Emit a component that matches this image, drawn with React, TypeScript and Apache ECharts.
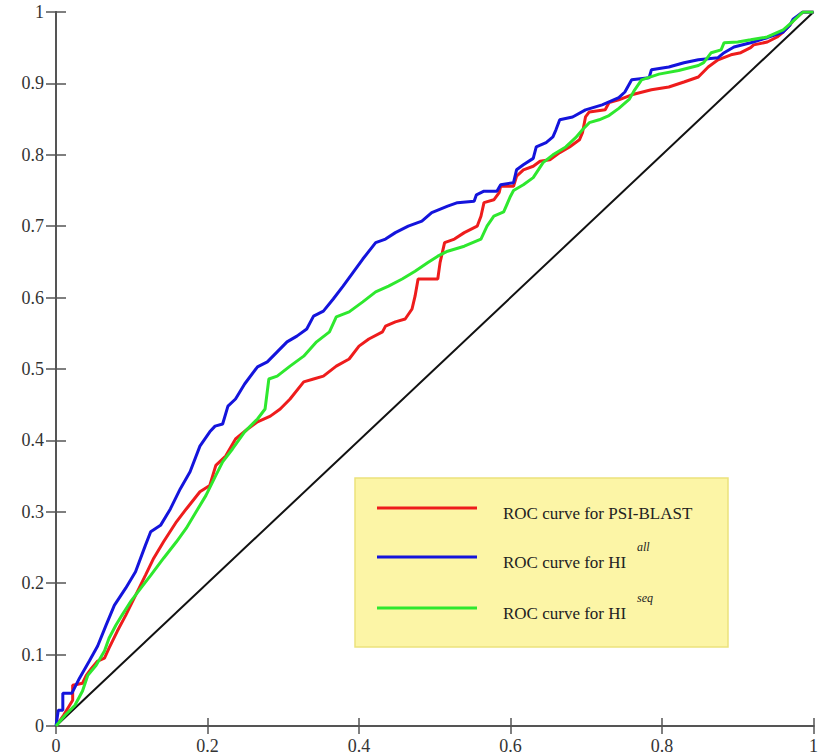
import React, { useEffect, useRef } from "react";
import * as echarts from "echarts";

// ROC points [false positive rate, true positive rate]
const psiBlast: number[][] = [
  [0, 0], [0.01, 0.015], [0.022, 0.036], [0.022, 0.057], [0.035, 0.06], [0.04, 0.071], [0.047, 0.081],
  [0.055, 0.091], [0.064, 0.095], [0.07, 0.109], [0.081, 0.133], [0.092, 0.155], [0.105, 0.183],
  [0.118, 0.211], [0.129, 0.235], [0.142, 0.258], [0.159, 0.286], [0.172, 0.304], [0.19, 0.328],
  [0.203, 0.337], [0.211, 0.365], [0.224, 0.378], [0.237, 0.402], [0.253, 0.416], [0.266, 0.426],
  [0.283, 0.434], [0.296, 0.444], [0.309, 0.458], [0.327, 0.482], [0.34, 0.486], [0.353, 0.49],
  [0.37, 0.504], [0.387, 0.514], [0.4, 0.532], [0.413, 0.542], [0.431, 0.552], [0.435, 0.56],
  [0.448, 0.566], [0.461, 0.57], [0.47, 0.584], [0.474, 0.602], [0.478, 0.626], [0.504, 0.626],
  [0.507, 0.649], [0.513, 0.677], [0.526, 0.682], [0.539, 0.691], [0.556, 0.7], [0.561, 0.714],
  [0.565, 0.733], [0.578, 0.737], [0.585, 0.747], [0.587, 0.756], [0.604, 0.756], [0.608, 0.77],
  [0.617, 0.779], [0.63, 0.784], [0.639, 0.791], [0.652, 0.793], [0.665, 0.803], [0.678, 0.811],
  [0.691, 0.821], [0.695, 0.831], [0.699, 0.853], [0.704, 0.86], [0.725, 0.863], [0.73, 0.873],
  [0.743, 0.877], [0.76, 0.884], [0.786, 0.891], [0.809, 0.895], [0.829, 0.902], [0.848, 0.909],
  [0.861, 0.923], [0.874, 0.933], [0.891, 0.94], [0.904, 0.943], [0.917, 0.95], [0.921, 0.954],
  [0.939, 0.958], [0.952, 0.965], [0.96, 0.972], [0.969, 0.982], [0.975, 0.99], [0.986, 1], [1, 1],
];

const hiAll: number[][] = [
  [0, 0], [0.003, 0.022], [0.009, 0.022], [0.009, 0.046], [0.021, 0.046], [0.031, 0.067],
  [0.044, 0.091], [0.055, 0.112], [0.066, 0.141], [0.077, 0.169], [0.092, 0.193], [0.105, 0.216],
  [0.118, 0.253], [0.125, 0.272], [0.138, 0.281], [0.151, 0.304], [0.164, 0.332], [0.177, 0.356],
  [0.19, 0.392], [0.203, 0.412], [0.21, 0.42], [0.22, 0.423], [0.227, 0.448], [0.237, 0.458],
  [0.249, 0.479], [0.266, 0.503], [0.279, 0.51], [0.292, 0.524], [0.305, 0.538], [0.318, 0.546],
  [0.331, 0.556], [0.34, 0.574], [0.353, 0.581], [0.366, 0.598], [0.379, 0.616], [0.392, 0.635],
  [0.405, 0.654], [0.422, 0.677], [0.435, 0.682], [0.448, 0.691], [0.465, 0.7], [0.483, 0.707],
  [0.496, 0.719], [0.517, 0.728], [0.53, 0.733], [0.552, 0.735], [0.555, 0.744], [0.565, 0.749],
  [0.582, 0.749], [0.587, 0.758], [0.604, 0.761], [0.608, 0.779], [0.617, 0.786], [0.63, 0.795],
  [0.634, 0.811], [0.647, 0.817], [0.656, 0.825], [0.66, 0.835], [0.665, 0.849], [0.682, 0.853],
  [0.699, 0.863], [0.721, 0.87], [0.743, 0.88], [0.751, 0.888], [0.76, 0.905], [0.783, 0.908],
  [0.786, 0.919], [0.809, 0.923], [0.829, 0.929], [0.848, 0.933], [0.874, 0.936], [0.882, 0.943],
  [0.895, 0.951], [0.917, 0.957], [0.939, 0.964], [0.96, 0.972], [0.969, 0.982], [0.973, 0.99],
  [0.986, 1], [1, 1],
];

const hiSeq: number[][] = [
  [0, 0], [0.012, 0.015], [0.025, 0.029], [0.035, 0.049], [0.042, 0.071], [0.053, 0.085],
  [0.064, 0.105], [0.07, 0.123], [0.079, 0.141], [0.087, 0.155], [0.099, 0.175], [0.112, 0.193],
  [0.125, 0.211], [0.142, 0.235], [0.159, 0.258], [0.172, 0.277], [0.185, 0.3], [0.198, 0.323],
  [0.211, 0.351], [0.22, 0.37], [0.233, 0.388], [0.249, 0.412], [0.266, 0.43], [0.276, 0.444],
  [0.281, 0.486], [0.292, 0.49], [0.309, 0.504], [0.327, 0.518], [0.344, 0.538], [0.361, 0.552],
  [0.37, 0.573], [0.387, 0.58], [0.405, 0.594], [0.422, 0.608], [0.439, 0.616], [0.457, 0.626],
  [0.474, 0.637], [0.491, 0.649], [0.504, 0.658], [0.517, 0.665], [0.539, 0.672], [0.561, 0.682],
  [0.569, 0.7], [0.578, 0.714], [0.591, 0.72], [0.6, 0.742], [0.604, 0.75], [0.617, 0.758],
  [0.63, 0.768], [0.643, 0.789], [0.656, 0.8], [0.673, 0.811], [0.686, 0.824], [0.695, 0.835],
  [0.704, 0.845], [0.717, 0.849], [0.73, 0.855], [0.743, 0.865], [0.757, 0.878], [0.764, 0.891],
  [0.773, 0.905], [0.796, 0.913], [0.822, 0.918], [0.848, 0.925], [0.855, 0.929], [0.865, 0.943],
  [0.878, 0.947], [0.882, 0.957], [0.9, 0.958], [0.917, 0.961], [0.939, 0.965], [0.96, 0.975],
  [0.971, 0.985], [0.986, 1], [1, 1],
];

const diagonal: number[][] = [[0, 0], [1, 1]];

const seriesNames = ["PSI-BLAST", "HI all", "HI seq"];
const seriesColors = ["#ee1c1c", "#1414dc", "#2ee82e"];
const legendTexts = ["ROC curve for PSI-BLAST", "ROC curve for HI", "ROC curve for HI"];
const legendSups = ["", "all", "seq"];

const FONT = "'Liberation Serif', 'Times New Roman', serif";

export default function App() {
  const ref = useRef<HTMLDivElement>(null);

  useEffect(() => {
    if (!ref.current) return;
    const chart = echarts.init(ref.current, undefined, { renderer: "svg" });

    const axisLine = { show: true, lineStyle: { color: "#555", width: 2 } };
    const labelStyle = { color: "#333", fontSize: 18, fontFamily: FONT };

    const legendY = [508, 557, 608];
    const graphics: any[] = [
      {
        type: "rect",
        shape: { x: 355, y: 478, width: 373, height: 169 },
        style: { fill: "#fcf5a6", stroke: "#ece27c", lineWidth: 1.5 },
        z: 100,
      },
    ];
    legendTexts.forEach((t, i) => {
      graphics.push({
        type: "line",
        shape: { x1: 377, y1: legendY[i], x2: 477, y2: legendY[i] },
        style: { stroke: seriesColors[i], lineWidth: 3 },
        z: 101,
      });
      graphics.push({
        type: "text",
        x: 503,
        y: legendY[i] + 5,
        style: {
          text: t,
          font: `17px ${FONT}`,
          fill: "#222",
          textAlign: "left",
          textVerticalAlign: "middle",
          align: "left",
          verticalAlign: "middle",
        },
        z: 101,
      });
      if (legendSups[i]) {
        graphics.push({
          type: "text",
          x: 637,
          y: legendY[i] - 10,
          style: {
            text: legendSups[i],
            font: `italic 12px ${FONT}`,
            fill: "#222",
            textAlign: "left",
            textVerticalAlign: "middle",
            align: "left",
            verticalAlign: "middle",
          },
          z: 101,
        });
      }
    });

    const curves = [psiBlast, hiAll, hiSeq];

    chart.setOption({
      animation: false,
      backgroundColor: "#ffffff",
      grid: { left: 56, top: 12, width: 768, height: 716, containLabel: false },
      xAxis: [
        {
          type: "value",
          min: 0,
          max: 1,
          interval: 0.2,
          position: "bottom",
          axisLine,
          axisTick: { show: true, inside: true, length: 8, lineStyle: { color: "#555", width: 1.5 } },
          axisLabel: { ...labelStyle, margin: 11 },
          splitLine: { show: false },
        },
        {
          type: "value",
          min: 0,
          max: 1,
          interval: 0.2,
          position: "top",
          axisLine,
          axisTick: { show: true, inside: true, length: 8, lineStyle: { color: "#555", width: 1.5 } },
          axisLabel: { show: false },
          splitLine: { show: false },
        },
      ],
      yAxis: [
        {
          type: "value",
          min: 0,
          max: 1,
          interval: 0.1,
          position: "left",
          axisLine,
          axisTick: { show: true, inside: true, length: 10, lineStyle: { color: "#555", width: 1.5 } },
          axisLabel: { ...labelStyle, margin: 12 },
          splitLine: { show: false },
        },
        {
          type: "value",
          min: 0,
          max: 1,
          interval: 0.1,
          position: "right",
          axisLine,
          axisTick: { show: true, inside: true, length: 10, lineStyle: { color: "#555", width: 1.5 } },
          axisLabel: { show: false },
          splitLine: { show: false },
        },
      ],
      series: [
        {
          name: "diagonal",
          type: "line",
          data: diagonal,
          showSymbol: false,
          symbol: "none",
          lineStyle: { color: "#111", width: 2 },
          z: 2,
        },
        ...curves.map((d, i) => ({
          name: seriesNames[i],
          type: "line",
          data: d,
          showSymbol: false,
          symbol: "none",
          lineStyle: { color: seriesColors[i], width: 3 },
          z: 3 + i,
        })),
      ],
      graphic: graphics,
    });

    return () => chart.dispose();
  }, []);

  return (
    <div
      ref={ref}
      style={{ position: "absolute", left: 0, top: 0, width: 821, height: 755 }}
    />
  );
}
